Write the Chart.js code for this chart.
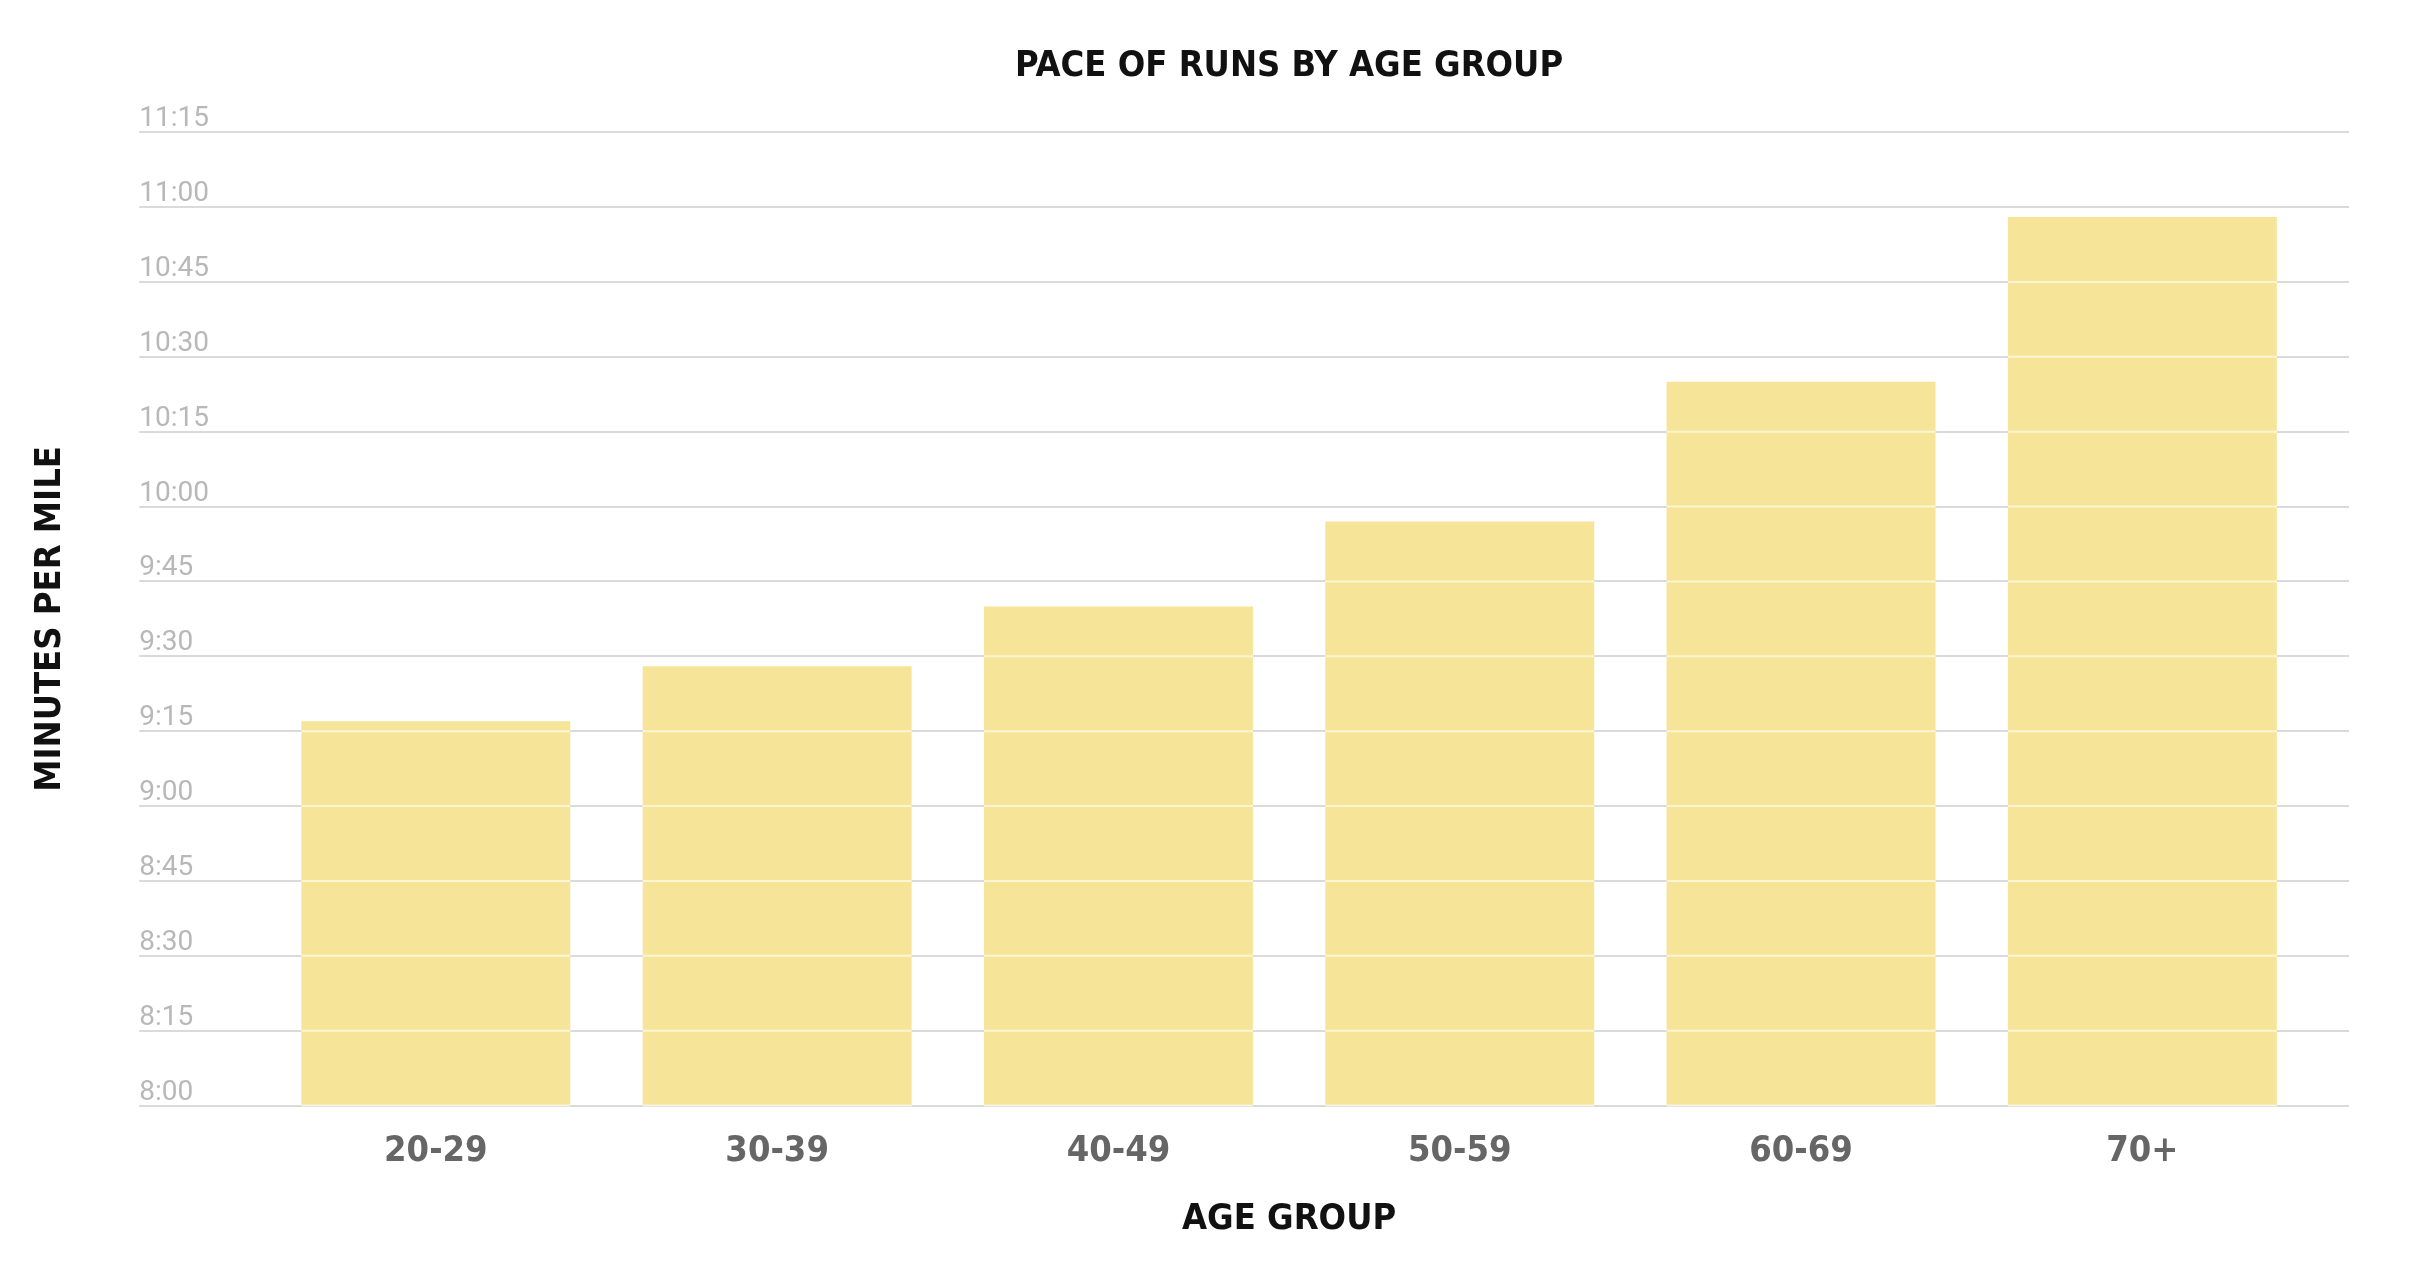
<!DOCTYPE html>
<html>
<head>
<meta charset="utf-8">
<title>Pace of runs by age group</title>
<script src="https://cdn.jsdelivr.net/npm/chart.js@4.4.1/dist/chart.umd.min.js"></script>
<style>
	html, body { margin: 0; padding: 0; background: #ffffff; overflow: hidden; }
	canvas { display: block; }
</style>
</head>
<body>
<canvas id="chart_pace" width="2412" height="1266"></canvas>
<script>
var ageGroups = ['20-29', '30-39', '40-49', '50-59', '60-69', '70+'];
var paces = ['9:17', '9:28', '9:40', '9:57', '10:25', '10:58'];
var paceAxisMin = '8:00';
var paceAxisMax = '11:15';
var paceAxisStep = '0:15';

var headFont = '"Liberation Sans Narrow", "DejaVu Sans Condensed", "Arial Narrow", sans-serif';
var tickFont = 'Roboto, "Liberation Sans", sans-serif';
var gridColor = '#dadada';

// "9:17" -> 9.2833 minutes
function toMinutes(s) {
	var p = s.split(':');
	return parseInt(p[0], 10) + parseInt(p[1], 10) / 60;
}

function toPace(v) {
	var m = Math.floor(v + 1e-9);
	var s = Math.round((v - m) * 60);
	return m + ':' + (s < 10 ? '0' + s : s);
}

// light lines across the bars at each grid step
var barGridLines = {
	id: 'barGridLines',
	afterDatasetsDraw: function(chart) {
		var ctx = chart.ctx;
		var scale = chart.scales.y;
		var meta = chart.getDatasetMeta(0);
		ctx.save();
		ctx.strokeStyle = 'rgba(255,255,255,0.6)';
		ctx.lineWidth = 2;
		meta.data.forEach(function(bar) {
			scale.ticks.forEach(function(t) {
				var py = scale.getPixelForValue(t.value);
				if (py > bar.y + 1 && py < bar.base - 1) {
					ctx.beginPath();
					ctx.moveTo(bar.x - bar.width / 2, py);
					ctx.lineTo(bar.x + bar.width / 2, py);
					ctx.stroke();
				}
			});
		});
		ctx.restore();
	}
};

var chart_pace = new Chart(
	document.getElementById('chart_pace'),
	{
		type: 'bar',
		data: {
			labels: ageGroups,
			datasets: [
				{
					label: 'Minutes per mile',
					backgroundColor: '#f6e599',
					borderWidth: 0,
					data: paces.map(toMinutes),
					barPercentage: 0.788,
					categoryPercentage: 1
				}
			]
		},
		options: {
			responsive: false,
			animation: false,
			layout: {
				padding: { left: 24, right: 63, top: 0, bottom: 0 }
			},
			plugins: {
				legend: { display: false },
				tooltip: { enabled: false },
				title: {
					display: true,
					text: 'PACE OF RUNS BY AGE GROUP',
					fullSize: false,
					color: '#111111',
					font: { family: headFont, size: 36, weight: 'bold', lineHeight: 1.2 },
					padding: { top: 45, bottom: 44 }
				}
			},
			scales: {
				x: {
					type: 'category',
					grid: { display: false },
					border: { display: false },
					ticks: {
						color: '#666666',
						padding: 16,
						font: { family: headFont, size: 36, weight: 'bold', lineHeight: 1.2 }
					},
					title: {
						display: true,
						text: 'AGE GROUP',
						color: '#111111',
						font: { family: headFont, size: 36, weight: 'bold', lineHeight: 1.2 },
						padding: { top: 9, bottom: 25 }
					}
				},
				y: {
					position: 'left',
					min: toMinutes(paceAxisMin),
					max: toMinutes(paceAxisMax),
					border: { display: false },
					grid: {
						color: gridColor,
						lineWidth: 2,
						drawTicks: true,
						tickLength: 126,
						tickColor: gridColor
					},
					ticks: {
						stepSize: toMinutes(paceAxisStep),
						mirror: true,
						crossAlign: 'near',
						padding: -126,
						labelOffset: -13,
						color: '#b8b8b8',
						font: { family: tickFont, size: 28 },
						callback: function(v) { return toPace(v); }
					},
					title: {
						display: true,
						text: 'MINUTES PER MILE',
						color: '#111111',
						font: { family: headFont, size: 36, weight: 'bold', lineHeight: 1.2 },
						// the negative tick padding is counted twice in the axis width
						padding: { top: 5, bottom: 319 }
					}
				},
				y2: {
					position: 'right',
					min: toMinutes(paceAxisMin),
					max: toMinutes(paceAxisMax),
					border: { display: false },
					grid: {
						drawOnChartArea: false,
						drawTicks: true,
						tickLength: 36,
						tickColor: gridColor,
						lineWidth: 2
					},
					ticks: {
						display: false,
						stepSize: toMinutes(paceAxisStep)
					}
				}
			}
		},
		plugins: [barGridLines]
	}
);
</script>
</body>
</html>
